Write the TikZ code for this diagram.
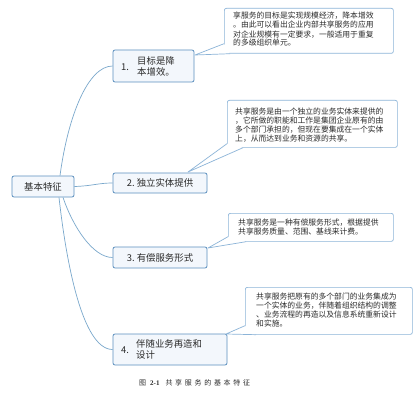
\documentclass[tikz,border=0pt]{standalone}
\usepackage{fontspec}
\setmainfont{Noto Sans CJK SC}
\newfontfamily\serifnum{Liberation Serif}
\definecolor{nodeborder}{HTML}{5B8FBE}
\definecolor{nodefill}{HTML}{F3F7FC}
\definecolor{calloutborder}{HTML}{8CB4D8}
\definecolor{linkcolor}{HTML}{7AA8CC}
\definecolor{txt}{HTML}{2B2B2B}
\newcommand\capsp{\hspace{2.7pt}}
\begin{document}
\begin{tikzpicture}[x=1pt,y=-1pt,
  every node/.style={text=txt},
  topicbox/.style={draw=nodeborder, fill=nodefill, rounded corners=2pt, line width=0.8pt, inner sep=0pt, font=\fontsize{9.4}{11}\selectfont},
  topictext/.style={font=\fontsize{9.4}{11}\selectfont, inner sep=0pt, align=left},
  callbox/.style={draw=calloutborder, fill=white, rounded corners=2pt, line width=0.7pt, inner sep=0pt, anchor=north west},
  calltext/.style={font=\fontsize{7.8}{9}\selectfont, inner sep=0pt, align=left, anchor=base west},
  wedgeline/.style={draw=calloutborder, line width=0.7pt, line join=round},
  link/.style={draw=linkcolor, line width=0.7pt}]
\useasboundingbox[fill=white] (0,0) rectangle (418,404);

% callouts
\node[callbox, minimum width=169pt, minimum height=45pt] (c1) at (224,8) {};
\node[callbox, minimum width=170pt, minimum height=47pt] (c2) at (227,100) {};
\node[callbox, minimum width=165pt, minimum height=28pt] (c3) at (228,213) {};
\node[callbox, minimum width=167pt, minimum height=47pt] (c4) at (245,287) {};

% topic nodes
\node[topicbox, minimum width=62pt, minimum height=21pt] (root) at (43,186.5) {基本特征};
\node[topicbox, minimum width=81pt, minimum height=32pt] (n1) at (153.5,66) {};
\node[topictext] (n1num) at (125,67) {1.};
\node[topictext, anchor=west] (n1txt) at (137,66.5) {目标是降\\本增效。};
\node[topicbox, minimum width=94pt, minimum height=20pt] (n2) at (160,183) {2.\ 独立实体提供};
\node[topicbox, minimum width=94pt, minimum height=21pt] (n3) at (160,257.5) {3.\ 有偿服务形式};
\node[topicbox, minimum width=114pt, minimum height=31pt] (n4) at (170,349.5) {};
\node[topictext] (n4num) at (125,350) {4.};
\node[topictext, anchor=west] (n4txt) at (136,349.5) {伴随业务再造和\\设计};

% wedge tips
\coordinate (t1) at (195,55);
\coordinate (t2) at (188,172);
\coordinate (t3) at (208,248);
\coordinate (t4) at (226,334);

\fill[white] ([yshift=10pt]c1.south west) -- (t1) -- ([xshift=6pt]c1.south west) -- cycle;
\draw[wedgeline] ([yshift=10pt]c1.south west) -- (t1) -- ([xshift=6pt]c1.south west);
\fill[white] ([yshift=4pt]c2.south west) -- (t2) -- ([xshift=16pt]c2.south west) -- cycle;
\draw[wedgeline] ([yshift=4pt]c2.south west) -- (t2) -- ([xshift=16pt]c2.south west);
\fill[white] ([yshift=5pt]c3.south west) -- (t3) -- ([xshift=18pt]c3.south west) -- cycle;
\draw[wedgeline] ([yshift=5pt]c3.south west) -- (t3) -- ([xshift=18pt]c3.south west);
\fill[white] ([yshift=9pt]c4.south west) -- (t4) -- ([xshift=11pt]c4.south west) -- cycle;
\draw[wedgeline] ([yshift=9pt]c4.south west) -- (t4) -- ([xshift=11pt]c4.south west);

% callout texts (anchored at the baseline of their last line)
\node[calltext] (c1t) at (233,46) {享服务的目标是实现规模经济，降本增效\\。由此可以看出企业内部共享服务的应用\\对企业规模有一定要求，一般适用于重复\\的多级组织单元。};
\node[calltext] (c2t) at (235,141) {共享服务是由一个独立的业务实体来提供的\\，它所做的职能和工作是集团企业原有的由\\多个部门承担的，但现在要集成在一个实体\\上，从而达到业务和资源的共享。};
\node[calltext] (c3t) at (238,234) {共享服务是一种有偿服务形式，根据提供\\共享服务质量、范围、基线来计费。};
\node[calltext] (c4t) at (256,326) {共享服务把原有的多个部门的业务集成为\\一个实体的业务，伴随着组织结构的调整\\、业务流程的再造以及信息系统重新设计\\和实施。};

% links
\draw[link] ([xshift=17pt]root.north) .. controls (68,116) and (88,66) .. (n1.west);
\draw[link] (root.east) .. controls (92,186) and (98,183) .. (n2.west);
\draw[link] ([xshift=20pt]root.south) .. controls (73,227) and (93,257.5) .. (n3.west);
\draw[link] ([xshift=16pt]root.south) .. controls (66,260) and (82,349.5) .. (n4.west);

% caption
\node[font=\fontsize{7}{8}\selectfont, inner sep=0pt, anchor=west] (cap) at (139,383)
  {图\hspace{4pt}{\serifnum\bfseries 2-1}\hspace{6pt}共\capsp 享\capsp 服\capsp 务\capsp 的\capsp 基\capsp 本\capsp 特\capsp 征};
\end{tikzpicture}
\end{document}
